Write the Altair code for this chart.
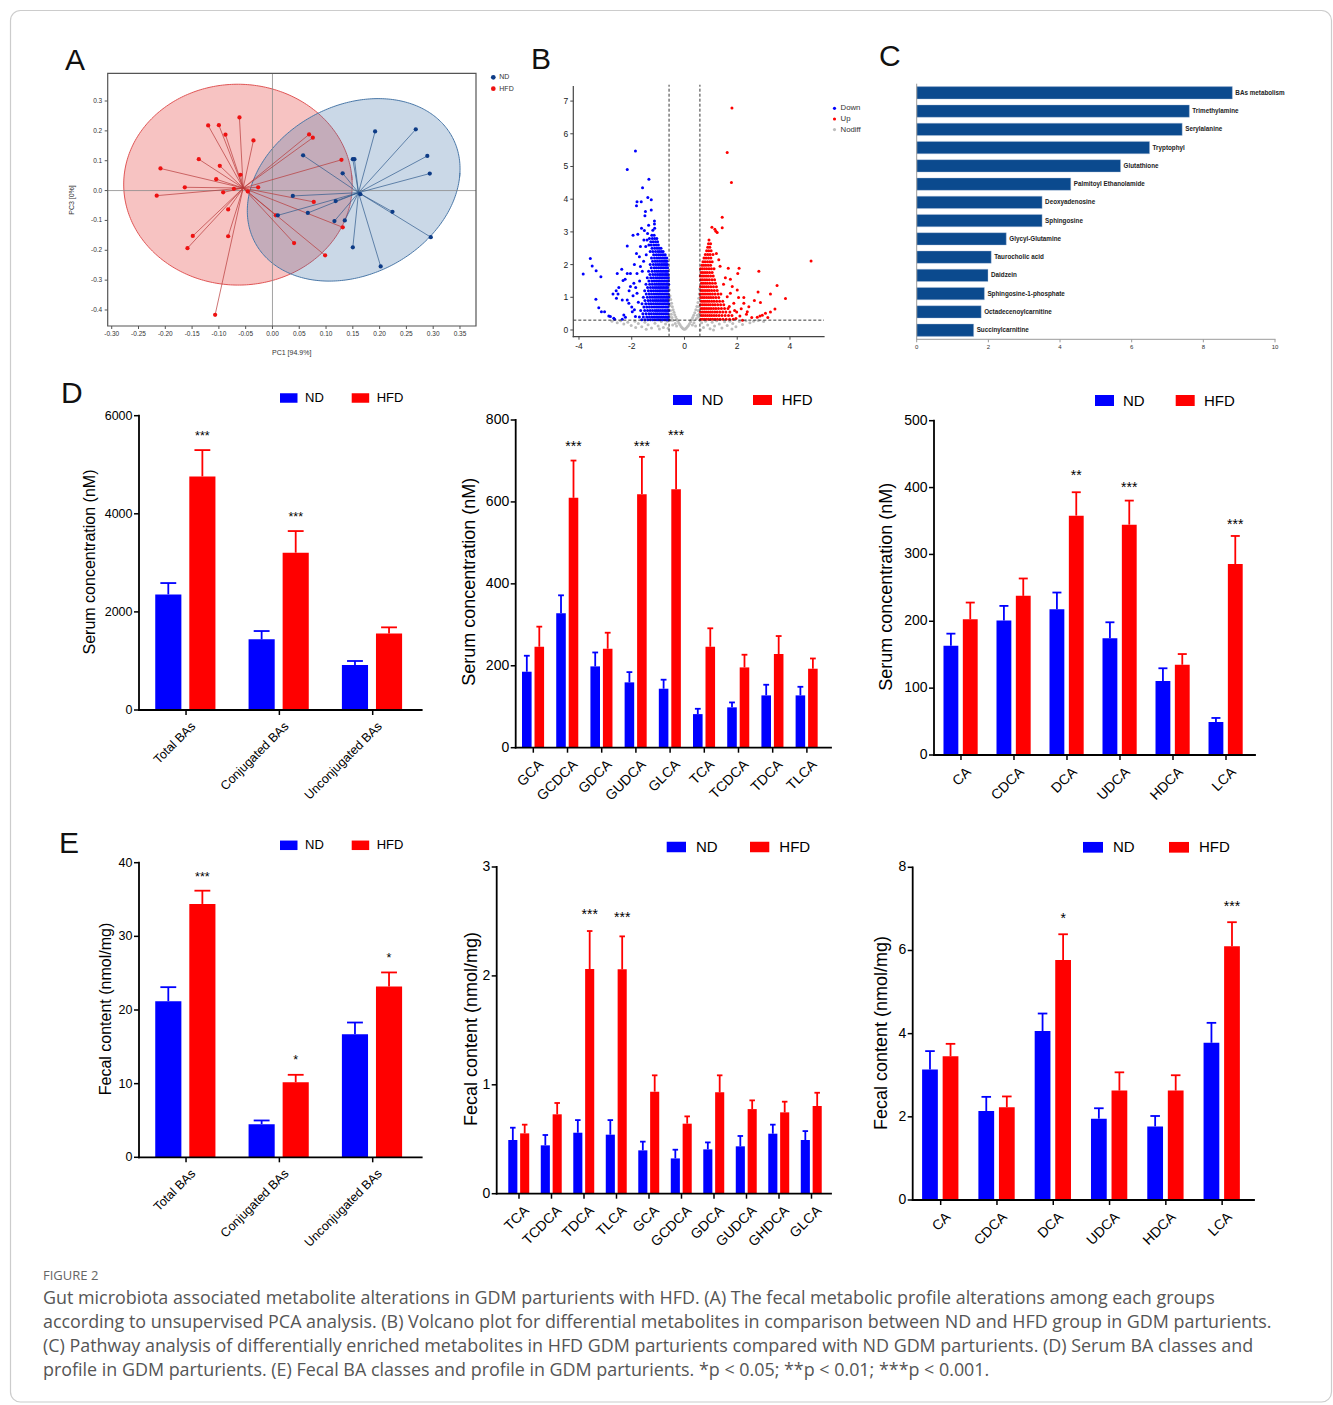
import altair as alt
import pandas as pd

W, H = 1333, 1405
FONT = "Liberation Sans"
ND_COL = "#0000ff"
HFD_COL = "#ff0000"

# ======================= Panel A : PCA =======================
pca_hfd = [(-0.0616, 0.245), (-0.120, 0.218), (-0.100, 0.219), (-0.0877, 0.187), (-0.0355, 0.168),
           (0.0684, 0.188), (0.0753, 0.177), (-0.1375, 0.105), (-0.0983, 0.083), (-0.209, 0.074),
           (-0.0597, 0.053), (0.1288, 0.103), (-0.105, 0.038), (-0.1636, 0.011), (-0.072, 0.006),
           (-0.0267, 0.011), (-0.092, -0.006), (-0.046, -0.003), (-0.216, -0.017), (0.0771, -0.038),
           (-0.0827, -0.063), (0.0062, -0.083), (0.1312, -0.123), (-0.1487, -0.152), (-0.0827, -0.153),
           (-0.1586, -0.193), (0.0404, -0.176), (0.0983, -0.217), (-0.107, -0.416)]
pca_nd = [(0.1916, 0.198), (0.2675, 0.205), (0.0572, 0.118), (0.150, 0.105), (0.153, 0.105),
          (0.289, 0.116), (0.2936, 0.057), (0.131, 0.058), (0.038, -0.018), (0.164, -0.012),
          (0.118, -0.035), (0.066, -0.075), (0.010, -0.083), (0.224, -0.071), (0.1157, -0.102),
          (0.135, -0.100), (0.2955, -0.156), (0.150, -0.190), (0.202, -0.254)]
# confidence ellipses: centre, cos/sin coefficients (x), cos/sin coefficients (y)
ell_cx = [-0.0644, 0.1516]
ell_cy = [0.0198, 0.0024]
ell_xa = [0.213, 0.1975]
ell_xb = [-0.010, 0.020]
ell_ya = [0.015, 0.040]
ell_yb = [0.336, 0.303]
ell_fill = ["#e53935", "#3b6ea5"]
ell_opac = [0.30, 0.27]
ell_stroke = ["#e05555", "#4a78a8"]
pca_xticks = [-0.30, -0.25, -0.20, -0.15, -0.10, -0.05, 0.00, 0.05, 0.10, 0.15, 0.20, 0.25, 0.30, 0.35]
pca_yticks = [-0.4, -0.3, -0.2, -0.1, 0.0, 0.1, 0.2, 0.3]

# ======================= Panel B : volcano =======================
vol_down_out = [(-1.86, 5.47), (-2.17, 4.91), (-1.35, 4.61), (-1.59, 4.35), (-1.39, 4.05), (-1.26, 3.98),
                (-1.80, 3.92), (-1.64, 3.92), (-1.82, 3.80), (-1.26, 3.67), (-1.48, 3.62), (-1.50, 3.49),
                (-1.14, 3.33), (-1.14, 3.24), (-1.63, 3.11), (-1.52, 3.04), (-1.13, 3.11), (-1.95, 2.90),
                (-1.77, 2.93), (-2.17, 2.57), (-3.57, 2.19), (-3.50, 1.96), (-3.35, 1.81), (-3.84, 1.71),
                (-3.17, 1.63), (-2.38, 1.86), (-2.55, 1.73), (-2.17, 1.73), (-2.25, 1.55), (-2.33, 1.51),
                (-2.49, 1.30), (-2.59, 1.20), (-2.71, 1.10), (-2.52, 1.10), (-2.58, 0.97), (-3.36, 0.94),
                (-3.25, 0.68), (-3.15, 0.56), (-3.03, 0.56), (-2.87, 0.43), (-2.81, 0.41), (-2.68, 0.36),
                (-2.65, 0.33), (-2.30, 0.46), (-2.24, 0.39), (-2.36, 0.33), (-2.36, 0.92), (-2.17, 0.92),
                (-2.05, 1.33), (-2.11, 0.82), (-1.98, 0.56), (-1.86, 0.41), (-1.80, 1.12), (-1.92, 1.43),
                (-1.80, 1.73), (-1.67, 1.94), (-1.71, 2.24), (-1.82, 2.34), (-1.67, 2.55), (-1.54, 2.75),
                (-1.42, 2.75), (-2.05, 1.73), (-1.95, 1.05), (-2.00, 0.70), (-1.90, 0.62), (-1.75, 0.85),
                (-1.70, 1.50), (-1.60, 1.80), (-1.55, 2.10), (-1.45, 2.30), (-1.90, 2.00), (-2.10, 1.20),
                (-1.85, 1.30), (-1.47, 2.55), (-1.40, 2.95), (-1.36, 3.20), (-1.20, 3.05)]
vol_down_rows = {
    0.31: [-1.62, -1.50, -1.39, -1.29, -1.20, -1.12, -1.04, -0.97, -0.90, -0.83, -0.76, -0.70, -0.64, -0.60],
    0.40: [-1.71, -1.56, -1.43, -1.33, -1.24, -1.15, -1.07, -1.00, -0.93, -0.86, -0.79, -0.72, -0.66, -0.61],
    0.50: [-1.58, -1.46, -1.35, -1.26, -1.17, -1.09, -1.02, -0.95, -0.88, -0.81, -0.74, -0.68, -0.62],
    0.60: [-1.66, -1.51, -1.40, -1.30, -1.21, -1.12, -1.05, -0.98, -0.91, -0.84, -0.77, -0.71, -0.65, -0.60],
    0.70: [-1.54, -1.43, -1.33, -1.24, -1.15, -1.07, -1.00, -0.93, -0.86, -0.80, -0.73, -0.67, -0.62],
    0.80: [-1.61, -1.47, -1.36, -1.27, -1.18, -1.10, -1.03, -0.96, -0.89, -0.82, -0.76, -0.70, -0.64, -0.60],
    0.90: [-1.50, -1.38, -1.29, -1.20, -1.12, -1.05, -0.98, -0.91, -0.85, -0.79, -0.73, -0.67, -0.62],
    1.00: [-1.56, -1.41, -1.31, -1.22, -1.14, -1.07, -1.00, -0.93, -0.87, -0.81, -0.75, -0.69, -0.64, -0.60],
    1.10: [-1.45, -1.34, -1.25, -1.16, -1.08, -1.01, -0.95, -0.89, -0.83, -0.77, -0.71, -0.66, -0.61],
    1.20: [-1.51, -1.37, -1.27, -1.18, -1.10, -1.03, -0.96, -0.90, -0.84, -0.78, -0.72, -0.67, -0.62],
    1.30: [-1.40, -1.29, -1.20, -1.12, -1.05, -0.98, -0.92, -0.86, -0.80, -0.74, -0.68, -0.63],
    1.40: [-1.46, -1.32, -1.22, -1.13, -1.06, -0.99, -0.93, -0.87, -0.81, -0.75, -0.69, -0.64, -0.60],
    1.50: [-1.35, -1.24, -1.15, -1.07, -1.00, -0.94, -0.88, -0.82, -0.76, -0.70, -0.65, -0.61],
    1.60: [-1.41, -1.28, -1.18, -1.09, -1.02, -0.95, -0.89, -0.83, -0.77, -0.71, -0.66, -0.61],
    1.70: [-1.31, -1.20, -1.11, -1.03, -0.96, -0.90, -0.84, -0.78, -0.72, -0.67, -0.62],
    1.80: [-1.36, -1.23, -1.13, -1.05, -0.98, -0.91, -0.85, -0.79, -0.73, -0.68, -0.63],
    1.90: [-1.26, -1.15, -1.07, -0.99, -0.92, -0.86, -0.80, -0.74, -0.69, -0.64],
    2.00: [-1.30, -1.18, -1.09, -1.01, -0.94, -0.87, -0.81, -0.75, -0.70, -0.65],
    2.10: [-1.21, -1.11, -1.03, -0.95, -0.88, -0.82, -0.76, -0.71, -0.66],
    2.20: [-1.25, -1.14, -1.05, -0.97, -0.90, -0.83, -0.77, -0.72, -0.67],
    2.30: [-1.17, -1.07, -0.99, -0.92, -0.85, -0.79, -0.73],
    2.40: [-1.30, -1.20, -1.10, -1.01, -0.94, -0.87, -0.81],
    2.50: [-1.23, -1.13, -1.04, -0.96, -0.89],
    2.60: [-1.35, -1.26, -1.16, -1.07, -0.99],
    2.70: [-1.28, -1.19, -1.10, -1.02],
    2.80: [-1.33, -1.22, -1.13, -1.05],
    2.90: [-1.24, -1.15],
}
vol_up_out = [(1.80, 6.79), (1.62, 5.43), (1.78, 4.51), (1.43, 3.45), (1.43, 3.13), (1.04, 3.14), (1.15, 3.08),
              (1.24, 2.98), (1.19, 3.02), (4.80, 2.11), (2.82, 1.80), (2.07, 1.89), (1.66, 1.89), (2.02, 1.73),
              (1.74, 1.55), (1.21, 2.34), (3.51, 1.36), (2.79, 1.16), (3.26, 1.10), (3.83, 0.96), (2.05, 0.99),
              (2.25, 0.99), (2.65, 0.90), (2.88, 0.84), (3.43, 0.64), (3.26, 0.55), (3.07, 0.51), (2.95, 0.45),
              (2.86, 0.43), (2.76, 0.39), (3.16, 0.38), (2.38, 0.56), (2.35, 0.48), (2.10, 0.43), (1.95, 0.35),
              (2.44, 0.71), (2.25, 0.82), (1.87, 0.82), (1.74, 1.12), (1.62, 1.02), (2.00, 1.22), (1.81, 1.33),
              (1.55, 1.60), (1.35, 1.95), (1.30, 2.15), (1.48, 1.40), (2.15, 0.65), (1.98, 0.55), (2.55, 0.38),
              (2.20, 0.30), (1.90, 0.60), (1.70, 0.72)]
vol_up_rows = {
    0.33: [0.62, 0.69, 0.76, 0.83, 0.91, 0.99, 1.07, 1.16, 1.25, 1.35, 1.46, 1.58, 1.71, 1.85],
    0.44: [0.64, 0.71, 0.79, 0.87, 0.95, 1.03, 1.12, 1.21, 1.31, 1.42, 1.54, 1.67, 1.80],
    0.55: [0.61, 0.68, 0.75, 0.82, 0.90, 0.98, 1.06, 1.15, 1.24, 1.34, 1.45, 1.57, 1.72],
    0.66: [0.63, 0.70, 0.77, 0.85, 0.93, 1.01, 1.10, 1.19, 1.29, 1.40, 1.52, 1.65],
    0.77: [0.61, 0.68, 0.75, 0.82, 0.90, 0.98, 1.07, 1.16, 1.26, 1.37, 1.49],
    0.88: [0.64, 0.71, 0.78, 0.86, 0.94, 1.03, 1.12, 1.22, 1.33, 1.45],
    0.99: [0.62, 0.69, 0.76, 0.84, 0.92, 1.00, 1.09, 1.19, 1.30],
    1.10: [0.60, 0.67, 0.74, 0.81, 0.89, 0.97, 1.06, 1.16, 1.27, 1.38],
    1.21: [0.63, 0.70, 0.78, 0.86, 0.94, 1.03, 1.13, 1.24],
    1.32: [0.61, 0.68, 0.75, 0.83, 0.91, 1.00, 1.10, 1.21],
    1.43: [0.64, 0.71, 0.79, 0.87, 0.96, 1.06, 1.17],
    1.54: [0.62, 0.69, 0.77, 0.85, 0.94, 1.04, 1.14],
    1.65: [0.60, 0.67, 0.74, 0.82, 0.90, 0.99, 1.09],
    1.76: [0.63, 0.70, 0.78, 0.86, 0.95, 1.05],
    1.87: [0.61, 0.68, 0.76, 0.84, 0.93, 1.02, 1.12],
    1.98: [0.66, 0.73, 0.81, 0.90, 0.99],
    2.09: [0.70, 0.78, 0.87, 0.96, 1.05],
    2.20: [0.74, 0.82, 0.91, 1.00],
    2.31: [0.79, 0.88, 0.97, 1.08],
    2.42: [0.84, 0.92, 1.01],
    2.53: [0.88, 0.96],
    2.64: [0.91, 0.99],
    2.75: [0.93],
}
vol_nodiff = [(-0.57, 1.22), (-0.55, 1.05), (-0.52, 0.93), (-0.49, 0.82), (-0.46, 0.71), (-0.43, 0.62),
              (-0.40, 0.54), (-0.37, 0.47), (-0.33, 0.40), (-0.29, 0.33), (-0.25, 0.27), (-0.21, 0.21),
              (-0.17, 0.16), (-0.13, 0.11), (-0.09, 0.07), (-0.05, 0.04), (-0.01, 0.02), (0.03, 0.03),
              (0.07, 0.06), (0.11, 0.10), (0.15, 0.14), (0.19, 0.19), (0.23, 0.25), (0.27, 0.31),
              (0.31, 0.38), (0.35, 0.45), (0.39, 0.53), (0.43, 0.62), (0.47, 0.72), (0.51, 0.84),
              (0.54, 0.97), (0.56, 1.10), (0.57, 1.25), (-0.55, 0.75), (-0.53, 0.60), (-0.50, 0.48),
              (-0.47, 0.38), (-0.44, 0.30), (-0.56, 0.40), (-0.52, 0.30), (0.45, 0.35), (0.49, 0.45),
              (0.52, 0.60), (0.55, 0.72), (0.53, 0.40), (0.56, 0.50), (-0.35, 0.20), (-0.30, 0.12),
              (0.30, 0.15), (0.36, 0.22), (-0.45, 0.15), (0.42, 0.12), (-2.75, 0.27), (-2.55, 0.22),
              (-2.42, 0.28), (-2.30, 0.18), (-2.15, 0.24), (-2.02, 0.14), (-1.88, 0.27), (-1.75, 0.20),
              (-1.62, 0.10), (-1.50, 0.24), (-1.38, 0.16), (-1.25, 0.06), (-1.12, 0.21), (-1.00, 0.12),
              (-0.88, 0.26), (-0.80, 0.08), (-0.72, 0.18), (-0.65, 0.27), (-0.62, 0.05), (-0.95, 0.03),
              (-1.45, 0.02), (-1.85, 0.08), (0.65, 0.22), (0.72, 0.08), (0.80, 0.27), (0.88, 0.15),
              (0.97, 0.04), (1.05, 0.24), (1.14, 0.12), (1.22, 0.28), (1.32, 0.18), (1.42, 0.06),
              (1.52, 0.25), (1.62, 0.14), (1.72, 0.27), (1.83, 0.20), (1.95, 0.10), (2.08, 0.26),
              (2.20, 0.17), (2.33, 0.28), (2.48, 0.22), (2.62, 0.27), (2.80, 0.29), (3.00, 0.26),
              (1.10, 0.00), (0.60, 0.00), (1.80, 0.03)]
vol_fc_cut = [-0.585, 0.585]
vol_p_cut = [0.301]
vol_xticks = [-4, -2, 0, 2, 4]
vol_yticks = [0, 1, 2, 3, 4, 5, 6, 7]

# ======================= Panel C : pathway bars =======================
path_names = ["BAs metabolism", "Trimethylamine", "Serylalanine", "Tryptophyl", "Glutathione",
              "Palmitoyl Ethanolamide", "Deoxyadenosine", "Sphingosine", "Glycyl-Glutamine",
              "Taurocholic acid", "Daidzein", "Sphingosine-1-phosphate", "Octadecenoylcarnitine",
              "Succinylcarnitine"]
path_values = [8.81, 7.61, 7.41, 6.50, 5.69, 4.30, 3.50, 3.50, 2.50, 2.08, 1.99, 1.89, 1.80, 1.59]
path_xticks = [0, 2, 4, 6, 8, 10]

# ======================= Panel D : serum BAs =======================
d1_cats = ["Total BAs", "Conjugated BAs", "Unconjugated BAs"]
d1_nd = [2357, 1440, 917]
d1_nd_sem = [231, 170, 82]
d1_hfd = [4762, 3207, 1562]
d1_hfd_sem = [537, 441, 123]
d1_star_idx = [0, 1]
d1_star_txt = ["***", "***"]
d1_star_val = [5659, 4001]

d2_cats = ["GCA", "GCDCA", "GDCA", "GUDCA", "GLCA", "TCA", "TCDCA", "TDCA", "TLCA"]
d2_nd = [185.5, 328, 198.5, 159.5, 144, 82, 98.5, 127.7, 127.7]
d2_nd_sem = [39, 44, 34, 25, 22, 13, 12, 26, 21]
d2_hfd = [246.5, 610, 241.7, 619, 631, 246.5, 196, 228.6, 192.8]
d2_hfd_sem = [49, 91, 39, 91, 95, 45, 31, 44, 25]
d2_star_idx = [1, 3, 4]
d2_star_txt = ["***", "***", "***"]
d2_star_val = [745, 745, 770]

d3_cats = ["CA", "CDCA", "DCA", "UDCA", "HDCA", "LCA"]
d3_nd = [163.5, 201, 218, 174.5, 110.7, 49.4]
d3_nd_sem = [18, 22, 25, 24, 19, 6]
d3_hfd = [203, 238, 358, 344.5, 135, 285.6]
d3_hfd_sem = [25, 26, 35, 36, 16, 42]
d3_star_idx = [2, 3, 5]
d3_star_txt = ["**", "***", "***"]
d3_star_val = [423, 406, 350]

# ======================= Panel E : fecal BAs =======================
e1_cats = ["Total BAs", "Conjugated BAs", "Unconjugated BAs"]
e1_nd = [21.2, 4.5, 16.7]
e1_nd_sem = [1.9, 0.5, 1.6]
e1_hfd = [34.4, 10.2, 23.2]
e1_hfd_sem = [1.8, 1.0, 1.9]
e1_star_idx = [0, 1, 2]
e1_star_txt = ["***", "*", "*"]
e1_star_val = [38.5, 13.7, 27.5]

e2_cats = ["TCA", "TCDCA", "TDCA", "TLCA", "GCA", "GCDCA", "GDCA", "GUDCA", "GHDCA", "GLCA"]
e2_nd = [0.493, 0.444, 0.560, 0.542, 0.398, 0.324, 0.407, 0.435, 0.551, 0.493]
e2_nd_sem = [0.113, 0.095, 0.116, 0.134, 0.080, 0.080, 0.064, 0.095, 0.083, 0.082]
e2_hfd = [0.554, 0.729, 2.063, 2.060, 0.937, 0.643, 0.931, 0.777, 0.747, 0.805]
e2_hfd_sem = [0.080, 0.104, 0.349, 0.303, 0.150, 0.067, 0.156, 0.080, 0.098, 0.122]
e2_star_idx = [2, 3]
e2_star_txt = ["***", "***"]
e2_star_val = [2.60, 2.565]

e3_cats = ["CA", "CDCA", "DCA", "UDCA", "HDCA", "LCA"]
e3_nd = [3.14, 2.14, 4.064, 1.956, 1.77, 3.78]
e3_nd_sem = [0.44, 0.34, 0.42, 0.25, 0.25, 0.48]
e3_hfd = [3.455, 2.23, 5.77, 2.63, 2.63, 6.10]
e3_hfd_sem = [0.30, 0.26, 0.62, 0.44, 0.37, 0.58]
e3_star_idx = [2, 5]
e3_star_txt = ["*", "***"]
e3_star_val = [6.85, 7.13]

caption_lines = [
    "Gut microbiota associated metabolite alterations in GDM parturients with HFD. (A) The fecal metabolic profile alterations among each groups",
    "according to unsupervised PCA analysis. (B) Volcano plot for differential metabolites in comparison between ND and HFD group in GDM parturients.",
    "(C) Pathway analysis of differentially enriched metabolites in HFD GDM parturients compared with ND GDM parturients. (D) Serum BA classes and",
    "profile in GDM parturients. (E) Fecal BA classes and profile in GDM parturients. *p < 0.05; **p < 0.01; ***p < 0.001.",
]


def qs(domain, rng):
    return alt.Scale(domain=domain, range=rng, nice=False, zero=False)


def XD(v, s):
    return alt.XDatum(v, type="quantitative", scale=s, axis=None)


def YD(v, s):
    return alt.YDatum(v, type="quantitative", scale=s, axis=None)


def XF(f, s):
    return alt.X(f, type="quantitative", scale=s, axis=None)


def YF(f, s):
    return alt.Y(f, type="quantitative", scale=s, axis=None)


ONE = alt.Data(values=[{"k": 1}])


def left_axis(xs, ys, x_at, y_lo, y_hi, vals, labs, color, dom_w, tick_len, tick_w, gap, fs, lcolor,
              domain=True):
    df = pd.DataFrame({"v": vals, "lab": labs})
    out = []
    if domain:
        out.append(alt.Chart(ONE).mark_rule(color=color, strokeWidth=dom_w, strokeCap="square").encode(
            x=XD(x_at, xs), y=YD(y_lo, ys), y2=alt.Y2Datum(y_hi)))
    if tick_len > 0:
        out.append(alt.Chart(df).mark_rule(color=color, strokeWidth=tick_w, x2Offset=-tick_len).encode(
            x=XD(x_at, xs), x2=alt.X2Datum(x_at), y=YF("v", ys)))
    out.append(alt.Chart(df).mark_text(align="right", baseline="middle", font=FONT, fontSize=fs, color=lcolor,
                                       xOffset=-(tick_len + gap)).encode(
        x=XD(x_at, xs), y=YF("v", ys), text="lab:N"))
    return out


def bottom_axis(xs, ys, y_at, x_lo, x_hi, vals, labs, color, dom_w, tick_len, tick_w, gap, fs, lcolor,
                angle=0, domain=True, lxoff=0.0):
    df = pd.DataFrame({"v": vals, "lab": labs})
    out = []
    if domain:
        out.append(alt.Chart(ONE).mark_rule(color=color, strokeWidth=dom_w, strokeCap="square").encode(
            y=YD(y_at, ys), x=XD(x_lo, xs), x2=alt.X2Datum(x_hi)))
    if tick_len > 0:
        out.append(alt.Chart(df).mark_rule(color=color, strokeWidth=tick_w, y2Offset=tick_len).encode(
            y=YD(y_at, ys), y2=alt.Y2Datum(y_at), x=XF("v", xs)))
    if angle:
        txt = alt.Chart(df).mark_text(align="right", baseline="top", font=FONT, fontSize=fs, color=lcolor,
                                      angle=angle, xOffset=lxoff, yOffset=tick_len + gap)
    else:
        txt = alt.Chart(df).mark_text(align="center", baseline="top", font=FONT, fontSize=fs, color=lcolor,
                                      yOffset=tick_len + gap)
    out.append(txt.encode(x=XF("v", xs), y=YD(y_at, ys), text="lab:N"))
    return out


def signed(v, nd):
    s = f"{abs(v):.{nd}f}"
    return ("-" + s) if v < 0 else s


layers = []
anno_text = []  # pixel-positioned texts (titles)

# ---------------------------------------------------------------- A
A_xd = [-0.3075, 0.3799]
A_yd = [-0.4536, 0.3928]
xsA = qs(A_xd, [107.7, 476.0])
ysA = qs(A_yd, [326.0, 73.3])
rowsA = [dict(group="HFD", x=p[0], y=p[1], pc="#ee1111", lc="#b83a3a") for p in pca_hfd] + \
        [dict(group="ND", x=p[0], y=p[1], pc="#0d3b86", lc="#2f5a8c") for p in pca_nd]
dfA = pd.DataFrame(rowsA)
A_layers = []
for i in range(2):
    A_layers.append(
        alt.Chart(alt.sequence(0, 6.36, 0.02, as_="t")).transform_calculate(
            ex=f"{ell_cx[i]} + ({ell_xa[i]})*cos(datum.t) + ({ell_xb[i]})*sin(datum.t)",
            ey=f"{ell_cy[i]} + ({ell_ya[i]})*cos(datum.t) + ({ell_yb[i]})*sin(datum.t)",
        ).mark_line(fill=ell_fill[i], fillOpacity=ell_opac[i], stroke=ell_stroke[i], strokeWidth=1).encode(
            x=XF("ex", xsA), y=YF("ey", ysA), order="t:Q")
    )
A_layers.append(alt.Chart(ONE).mark_rule(color="#8a8a8a", strokeWidth=0.8).encode(
    x=XD(0, xsA), y=YD(A_yd[0], ysA), y2=alt.Y2Datum(A_yd[1])))
A_layers.append(alt.Chart(ONE).mark_rule(color="#8a8a8a", strokeWidth=0.8).encode(
    y=YD(0, ysA), x=XD(A_xd[0], xsA), x2=alt.X2Datum(A_xd[1])))
A_layers.append(
    alt.Chart(dfA).transform_joinaggregate(mx="mean(x)", my="mean(y)", groupby=["group"]).mark_rule(
        strokeWidth=0.7).encode(
        x=XF("x", xsA), y=YF("y", ysA), x2="mx:Q", y2="my:Q", color=alt.Color("lc:N", scale=None)))
A_layers.append(alt.Chart(dfA).mark_circle(size=18, opacity=1).encode(
    x=XF("x", xsA), y=YF("y", ysA), color=alt.Color("pc:N", scale=None)))
A_layers.append(alt.Chart(ONE).mark_rect(fill="transparent", stroke="#555", strokeWidth=1.2).encode(
    x=XD(A_xd[0], xsA), x2=alt.X2Datum(A_xd[1]), y=YD(A_yd[0], ysA), y2=alt.Y2Datum(A_yd[1])))
A_layers += left_axis(xsA, ysA, A_xd[0], A_yd[0], A_yd[1], pca_yticks, [signed(v, 1) for v in pca_yticks],
                      "#555", 1, 3, 1, 2.5, 6.5, "#333", domain=False)
A_layers += bottom_axis(xsA, ysA, A_yd[0], A_xd[0], A_xd[1], pca_xticks, [signed(v, 2) for v in pca_xticks],
                        "#555", 1, 3, 1, 2, 6.5, "#333", domain=False)
layers.append(alt.layer(*A_layers))
anno_text.append(dict(t="PC1 [94.9%]", px=291.7, py=353.3, fs=7, ang=0, c="#333"))
anno_text.append(dict(t="PC3 [0%]", px=71.7, py=200, fs=7, ang=270, c="#333"))

# ---------------------------------------------------------------- B
B_xd = [-4.216, 5.29]
B_yd = [-0.205, 7.44]
xsB = qs(B_xd, [573.3, 824.0])
ysB = qs(B_yd, [336.7, 86.7])
rowsB = [dict(x=p[0], y=p[1], c="#bdbdbd") for p in vol_nodiff]
for yv, xl in vol_down_rows.items():
    rowsB += [dict(x=xv, y=yv, c=ND_COL) for xv in xl]
rowsB += [dict(x=p[0], y=p[1], c=ND_COL) for p in vol_down_out]
for yv, xl in vol_up_rows.items():
    rowsB += [dict(x=xv, y=yv, c=HFD_COL) for xv in xl]
rowsB += [dict(x=p[0], y=p[1], c=HFD_COL) for p in vol_up_out]
dfB = pd.DataFrame(rowsB)
B_layers = [
    alt.Chart(dfB).mark_circle(size=9, opacity=1).encode(
        x=XF("x", xsB), y=YF("y", ysB), color=alt.Color("c:N", scale=None)),
    alt.Chart(pd.DataFrame({"fc": vol_fc_cut})).mark_rule(color="#222", strokeWidth=0.9, strokeDash=[3, 2]).encode(
        x=XF("fc", xsB), y=YD(B_yd[0], ysB), y2=alt.Y2Datum(7.5)),
    alt.Chart(pd.DataFrame({"p": vol_p_cut})).mark_rule(color="#222", strokeWidth=0.9, strokeDash=[3, 2]).encode(
        y=YF("p", ysB), x=XD(B_xd[0], xsB), x2=alt.X2Datum(B_xd[1])),
]
B_layers += left_axis(xsB, ysB, B_xd[0], B_yd[0], B_yd[1], vol_yticks, [signed(v, 0) for v in vol_yticks],
                      "#444", 1.2, 3, 1, 2, 8.5, "#222")
B_layers += bottom_axis(xsB, ysB, B_yd[0], B_xd[0], B_xd[1], vol_xticks, [signed(v, 0) for v in vol_xticks],
                        "#444", 1.2, 3, 1, 2, 8.5, "#222")
layers.append(alt.layer(*B_layers))

# ---------------------------------------------------------------- C
xsC = qs([0, 10], [916.7, 1275.0])
ysC = qs([-0.5, 13.5], [83.7, 339.3])
dfC = pd.DataFrame({"name": path_names, "val": path_values, "idx": list(range(len(path_names)))})
dfC["zero"] = 0.0
dfC["y0"] = dfC["idx"] - 0.34
dfC["y1"] = dfC["idx"] + 0.34
C_layers = [
    alt.Chart(dfC).mark_rect(fill="#0b4a8e", stroke="#b8c8de", strokeWidth=0.4).encode(
        x=XF("zero", xsC), x2="val:Q", y=YF("y0", ysC), y2="y1:Q"),
    alt.Chart(dfC).mark_text(align="left", baseline="middle", dx=3, fontSize=6.3, fontWeight="bold",
                             font=FONT, color="#222").encode(
        x=XF("val", xsC), y=YF("idx", ysC), text="name:N"),
    alt.Chart(ONE).mark_rule(color="#9a9a9a", strokeWidth=1).encode(
        x=XD(0, xsC), y=YD(-0.5, ysC), y2=alt.Y2Datum(13.5)),
]
C_layers += bottom_axis(xsC, ysC, 13.5, 0, 10, path_xticks, [str(v) for v in path_xticks],
                        "#9a9a9a", 1, 3, 1, 2, 6, "#333")
layers.append(alt.layer(*C_layers))

# ---------------------------------------------------------------- bar panels
BW = 0.28
CAP = 0.17
OFF_ND = -0.19
OFF_HFD = 0.175
legend_rows = []


def bar_panel(cats, nd, nd_sem, hfd, hfd_sem, s_idx, s_txt, s_val, L):
    n = len(cats)
    rows = []
    for i in range(n):
        for g, v, s, off, col in (("ND", nd[i], nd_sem[i], OFF_ND, ND_COL),
                                  ("HFD", hfd[i], hfd_sem[i], OFF_HFD, HFD_COL)):
            c = i + off
            rows.append(dict(cat=cats[i], group=g, c=c, l=c - BW / 2, r=c + BW / 2,
                             cl=c - CAP / 2, cr=c + CAP / 2, v=v, top=v + s, col=col))
    df = pd.DataFrame(rows)
    sdf = pd.DataFrame({"sx": [i + OFF_HFD for i in s_idx], "sy": s_val, "t": s_txt})
    xs = qs([L["lo"], L["hi"]], [L["x0"], L["x1"]])
    ys = qs([0, L["ymax"]], [L["yb"], L["yt"]])
    col = alt.Color("col:N", scale=None)
    out = [
        alt.Chart(df).mark_rect().encode(x=XF("l", xs), x2="r:Q", y=YF("v", ys), y2=alt.Y2Datum(0), color=col),
        alt.Chart(df).mark_rule(strokeWidth=1.8).encode(x=XF("c", xs), y=YF("v", ys), y2="top:Q", color=col),
        alt.Chart(df).mark_rule(strokeWidth=1.8).encode(x=XF("cl", xs), x2="cr:Q", y=YF("top", ys), color=col),
        alt.Chart(sdf).mark_text(fontSize=L["sfs"], font=FONT, color="#000", baseline="alphabetic",
                                 dy=0.57 * L["sfs"]).encode(x=XF("sx", xs), y=YF("sy", ys), text="t:N"),
    ]
    out += left_axis(xs, ys, L["lo"], 0, L["ymax"], L["yticks"], [str(v) for v in L["yticks"]],
                     "#000", 1.8, 5, 1.5, 1.5, L["tfs"], "#000")
    out += bottom_axis(xs, ys, 0, L["lo"], L["hi"], list(range(n)), cats, "#000", 1.8, 5, 1.5, 5,
                       L["lfs"], "#000", angle=315, domain=True, lxoff=3)
    anno_text.append(dict(t=L["ytitle"], px=L["tx"], py=L["ty"], fs=L["tsz"], ang=270, c="#000"))
    lg = L["leg"]
    for name, bx, tx, c in (("ND", lg[0], lg[2], ND_COL), ("HFD", lg[1], lg[3], HFD_COL)):
        legend_rows.append(dict(bx0=bx, bx1=bx + lg[4], by0=lg[5] - lg[6] / 2, by1=lg[5] + lg[6] / 2,
                                tx=tx, ty=lg[5], t=name, c=c, fs=lg[7]))
    return alt.layer(*out)


# layout: leg = (nd_box_x, hfd_box_x, nd_text_x, hfd_text_x, box_w, y_center, box_h, font)
LD1 = dict(x0=139, x1=421.7, lo=-0.504, hi=2.525, yb=710, yt=415.7, ymax=6000, yticks=[0, 2000, 4000, 6000],
           ytitle="Serum concentration (nM)", tx=89.7, ty=562, tsz=16, tfs=12.5, lfs=12.5, sfs=12.5,
           leg=(280, 351.7, 305, 376.7, 17.5, 398, 9.5, 13))
LD2 = dict(x0=515.7, x1=831, lo=-0.515, hi=8.705, yb=747.7, yt=420, ymax=800, yticks=[0, 200, 400, 600, 800],
           ytitle="Serum concentration (nM)", tx=470, ty=581.7, tsz=18, tfs=14, lfs=14, sfs=14,
           leg=(673, 753, 701.7, 781.7, 19, 400, 10, 15))
LD3 = dict(x0=934, x1=1255, lo=-0.509, hi=5.547, yb=755, yt=420.7, ymax=500,
           yticks=[0, 100, 200, 300, 400, 500],
           ytitle="Serum concentration (nM)", tx=886.7, ty=586.7, tsz=18, tfs=14, lfs=14, sfs=14,
           leg=(1095, 1175.7, 1123, 1204, 19, 400.5, 11, 15))
LE1 = dict(x0=139, x1=421.7, lo=-0.504, hi=2.525, yb=1157.3, yt=862.7, ymax=40, yticks=[0, 10, 20, 30, 40],
           ytitle="Fecal content (nmol/mg)", tx=105.7, ty=1009, tsz=16, tfs=12.5, lfs=12.5, sfs=12.5,
           leg=(280, 351.7, 305, 376.7, 17.5, 845.3, 9.5, 13))
LE2 = dict(x0=496.7, x1=831, lo=-0.686, hi=9.6, yb=1193.7, yt=867, ymax=3, yticks=[0, 1, 2, 3],
           ytitle="Fecal content (nmol/mg)", tx=471.7, ty=1029, tsz=18, tfs=14, lfs=14, sfs=14,
           leg=(666.7, 750, 696, 779.3, 19.3, 847, 10.5, 15))
LE3 = dict(x0=912.7, x1=1254, lo=-0.497, hi=5.566, yb=1200, yt=867.3, ymax=8, yticks=[0, 2, 4, 6, 8],
           ytitle="Fecal content (nmol/mg)", tx=881.7, ty=1033, tsz=18, tfs=14, lfs=14, sfs=14,
           leg=(1083, 1169, 1113, 1199, 20, 847.3, 10.7, 15))

layers.append(bar_panel(d1_cats, d1_nd, d1_nd_sem, d1_hfd, d1_hfd_sem, d1_star_idx, d1_star_txt, d1_star_val, LD1))
layers.append(bar_panel(d2_cats, d2_nd, d2_nd_sem, d2_hfd, d2_hfd_sem, d2_star_idx, d2_star_txt, d2_star_val, LD2))
layers.append(bar_panel(d3_cats, d3_nd, d3_nd_sem, d3_hfd, d3_hfd_sem, d3_star_idx, d3_star_txt, d3_star_val, LD3))
layers.append(bar_panel(e1_cats, e1_nd, e1_nd_sem, e1_hfd, e1_hfd_sem, e1_star_idx, e1_star_txt, e1_star_val, LE1))
layers.append(bar_panel(e2_cats, e2_nd, e2_nd_sem, e2_hfd, e2_hfd_sem, e2_star_idx, e2_star_txt, e2_star_val, LE2))
layers.append(bar_panel(e3_cats, e3_nd, e3_nd_sem, e3_hfd, e3_hfd_sem, e3_star_idx, e3_star_txt, e3_star_val, LE3))


# ---------------------------------------------------------------- annotations (pixel positioned)
def PX(f):
    return alt.X(f, type="quantitative", scale=None)


def PY(f):
    return alt.Y(f, type="quantitative", scale=None)


dfLeg = pd.DataFrame(legend_rows)
layers.append(alt.Chart(dfLeg).mark_rect().encode(
    x=PX("bx0"), x2="bx1:Q", y=PY("by0"), y2="by1:Q", color=alt.Color("c:N", scale=None)))
layers.append(alt.Chart(dfLeg).mark_text(align="left", baseline="middle", font=FONT, color="#000").encode(
    x=PX("tx"), y=PY("ty"), text="t:N", size=alt.Size("fs:Q", scale=None)))

dfT = pd.DataFrame(anno_text)
for ang in (0, 270):
    layers.append(alt.Chart(dfT[dfT["ang"] == ang]).mark_text(
        align="center", baseline="middle", font=FONT, angle=ang).encode(
        x=PX("px"), y=PY("py"), text="t:N", size=alt.Size("fs:Q", scale=None),
        color=alt.Color("c:N", scale=None)))

# small dot legends for A and B
dot_leg = pd.DataFrame({
    "t": ["ND", "HFD", "Down", "Up", "Nodiff"],
    "c": ["#0d3b86", "#ee1111", ND_COL, HFD_COL, "#bdbdbd"],
    "dx": [493.3, 493.3, 834.5, 834.5, 834.5],
    "dy": [77.3, 88.7, 108.3, 119.0, 129.6],
    "fs": [7, 7, 7.8, 7.8, 7.8],
    "sz": [22, 22, 10, 10, 10],
})
dot_leg["tx"] = dot_leg["dx"] + 6
layers.append(alt.Chart(dot_leg).mark_circle(opacity=1).encode(
    x=PX("dx"), y=PY("dy"), color=alt.Color("c:N", scale=None), size=alt.Size("sz:Q", scale=None)))
layers.append(alt.Chart(dot_leg).mark_text(align="left", baseline="middle", font=FONT, color="#333").encode(
    x=PX("tx"), y=PY("dy"), text="t:N", size=alt.Size("fs:Q", scale=None)))

# panel letters
letters = pd.DataFrame({"t": ["A", "B", "C", "D", "E"],
                        "px": [65, 531, 879, 61, 59],
                        "py": [70, 69, 66, 403, 853]})
layers.append(alt.Chart(letters).mark_text(align="left", baseline="alphabetic", font=FONT, fontSize=30,
                                           color="#111").encode(x=PX("px"), y=PY("py"), text="t:N"))

# caption
cap_df = pd.DataFrame({"t": caption_lines, "py": [1298.5, 1322.5, 1346.5, 1370.5]})
layers.append(alt.Chart(cap_df).mark_text(align="left", baseline="middle", font="Open Sans", fontSize=17.9,
                                          color="#555").encode(x=alt.value(43), y=PY("py"), text="t:N"))
layers.append(alt.Chart(ONE).mark_text(align="left", baseline="middle", font="Open Sans", fontSize=13,
                                       color="#666", text="FIGURE 2").encode(x=alt.value(43), y=alt.value(1276)))
# outer frame
layers.append(alt.Chart(ONE).mark_rect(fill="transparent", stroke="#cccccc", strokeWidth=1.2,
                                       cornerRadius=10).encode(
    x=alt.value(10.5), x2=alt.value(1331.5), y=alt.value(10.5), y2=alt.value(1402)))

chart = alt.layer(*layers).resolve_scale(x="independent", y="independent").properties(
    width=W, height=H, autosize=alt.AutoSizeParams(type="none"), padding=0, background="white"
).configure_view(stroke=None)

chart.save("out.html", embed_options={"renderer": "svg", "actions": False})
